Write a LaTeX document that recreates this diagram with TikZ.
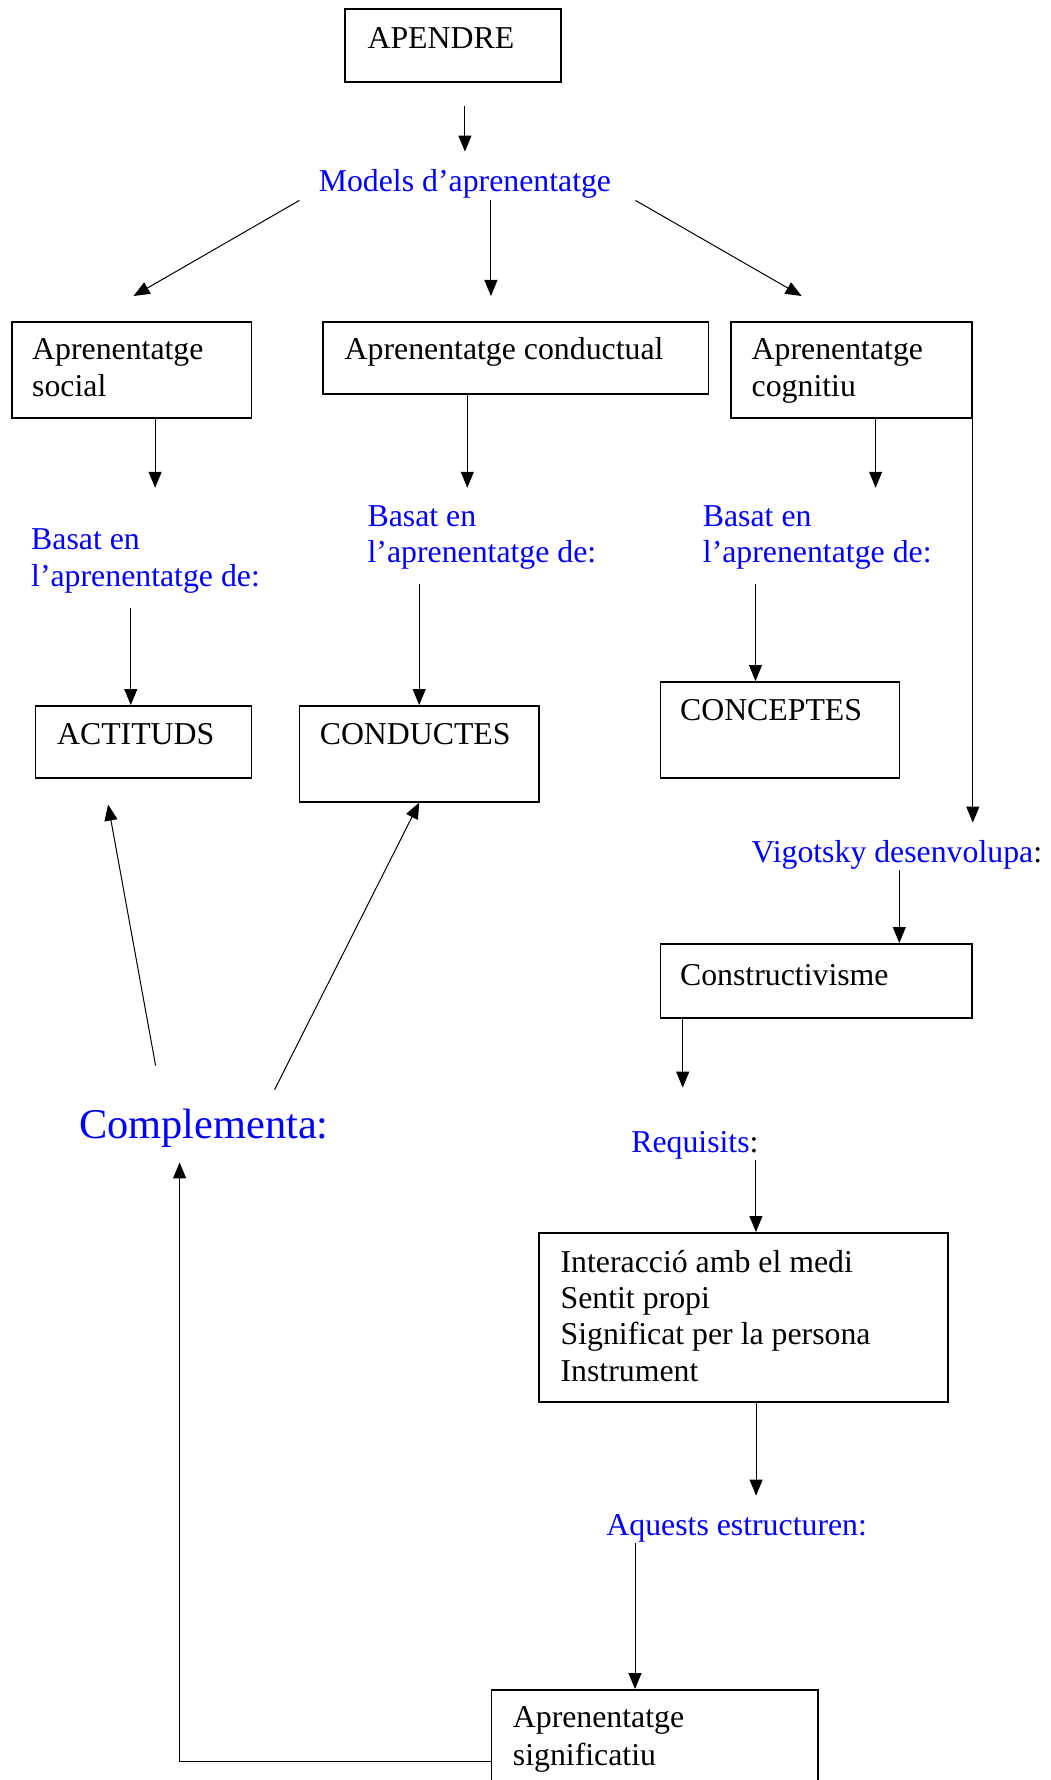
\documentclass[tikz,border=0pt]{standalone}
\usepackage{fontspec}
\setmainfont{Liberation Serif}
\usepackage{tikz}
\usetikzlibrary{arrows.meta}
\definecolor{wordblue}{RGB}{0,0,255}

\begin{document}
\begin{tikzpicture}[x=0.5pt, y=-0.5pt,
    font=\fontsize{15.9pt}{18.4pt}\selectfont,
    box/.style={draw, line width=0.8pt, inner sep=0pt, anchor=north west},
    txt/.style={inner sep=0pt, anchor=base west, text height=11pt, text depth=4pt},
    lbl/.style={txt, text=wordblue},
    twolines/.style={inner sep=0pt, anchor=base west, text width=#1, align=flush left},
    arr/.style={-{Triangle[length=8pt,width=6.5pt]}, line width=0.5pt}]
    \useasboundingbox (0,0) rectangle (1050,1780);
    \clip (0,0) rectangle (1050,1780);
    % boxes
    \node[box, minimum width=108pt, minimum height=36.5pt] (apendre) at (344.3,8) {};
    \node[box, minimum width=119.9pt, minimum height=48pt] (social) at (10.9,321) {};
    \node[box, minimum width=192.6pt, minimum height=36pt] (conductual) at (322.4,321) {};
    \node[box, minimum width=120.4pt, minimum height=48pt] (cognitiu) at (730.4,321) {};
    \node[box, minimum width=108pt, minimum height=36pt] (actituds) at (34.8,705) {};
    \node[box, minimum width=119.9pt, minimum height=48pt] (conductes) at (298.5,705) {};
    \node[box, minimum width=119.4pt, minimum height=48pt] (conceptes) at (659.7,681) {};
    \node[box, minimum width=155.7pt, minimum height=37pt] (constr) at (659.7,943) {};
    \node[box, minimum width=204.5pt, minimum height=84.5pt] (reqbox) at (538.3,1232) {};
    \node[box, minimum width=163.2pt, minimum height=72pt] (signif) at (490.6,1689) {};
    % texts in the boxes
    \node[txt] (t-apendre) at (367.2,49) {APENDRE};
    \node[twolines=110pt] (t-social) at (31.8,360) {Aprenentatge\\social};
    \node[txt] (t-conductual) at (344.3,360) {Aprenentatge conductual};
    \node[twolines=110pt] (t-cognitiu) at (751.3,360) {Aprenentatge\\cognitiu};
    \node[txt] (t-actituds) at (56.7,744) {ACTITUDS};
    \node[txt] (t-conductes) at (319.4,744) {CONDUCTES};
    \node[txt] (t-conceptes) at (679.7,720) {CONCEPTES};
    \node[txt] (t-constr) at (679.7,985) {Constructivisme};
    \node[twolines=190pt, font=\fontsize{15.9pt}{18.2pt}\selectfont] (t-reqbox) at (560.2,1272)
        {Interacció amb el medi\\Sentit propi\\Significat per la persona\\Instrument};
    \node[twolines=150pt, font=\fontsize{15.9pt}{19pt}\selectfont] (t-signif) at (512.5,1727) {Aprenentatge\\significatiu};
    % blue labels
    \node[lbl] (models) at (318.4,192) {Models d’aprenentatge};
    \node[twolines=120pt, text=wordblue] (basat1) at (30.8,550) {Basat en\\l’aprenentatge de:};
    \node[twolines=120pt, text=wordblue] (basat2) at (367.2,526) {Basat en\\l’aprenentatge de:};
    \node[twolines=120pt, text=wordblue] (basat3) at (702.5,526) {Basat en\\l’aprenentatge de:};
    \node[lbl] (vigotsky) at (751.3,862) {Vigotsky desenvolupa\textcolor{black}{:}};
    \node[lbl] (requisits) at (630.9,1152) {Requisits\textcolor{black}{:}};
    \node[lbl] (aquests) at (606,1535) {Aquests estructuren:};
    \node[lbl, font=\fontsize{21.2pt}{24pt}\selectfont, text height=15pt, text depth=5pt] (complementa) at (78.6,1138) {Complementa:};
    % connectors
    \draw[arr, shorten <=11.5pt, shorten >=9pt] (apendre.south -| models.north) -- (models.north);
    \draw[arr] ([shift={(-19,0)}]models.south west) -- ([shift={(2,-25)}]social.north);
    \draw[arr, shorten >=12.5pt] ([shift={(26,0)}]models.south) -- ([shift={(26,0)}]models.south |- conductual.north);
    \draw[arr] ([shift={(24,0)}]models.south east) -- ([shift={(-50,-25)}]cognitiu.north);
    \draw[arr, shorten >=20.5pt] ([shift={(23.5,0)}]social.south) -- ([shift={(23.5,0)}]social.south |- basat1.north);
    \draw[arr, shorten >=8.5pt] ([shift={(-48.5,0)}]conductual.south) -- ([shift={(-48.5,0)}]conductual.south |- basat2.north);
    \draw[arr, shorten >=8.5pt] ([shift={(24,0)}]cognitiu.south) -- ([shift={(24,0)}]cognitiu.south |- basat3.north);
    \draw[arr, shorten >=8.5pt] (cognitiu.south east) -- (cognitiu.south east |- vigotsky.north);
    \draw[arr, shorten <=7pt] ([shift={(100,0)}]basat1.south west) -- ([shift={(100,0)}]basat1.south west |- actituds.north);
    \draw[arr, shorten <=7pt] ([shift={(52,0)}]basat2.south west) -- ([shift={(52,0)}]basat2.south west |- conductes.north);
    \draw[arr, shorten <=7pt] ([shift={(53,0)}]basat3.south west) -- ([shift={(53,0)}]basat3.south west |- conceptes.north);
    \draw[arr] ([shift={(77,-42)}]complementa.north west) -- ([shift={(-35.5,26)}]actituds.south);
    \draw[arr] ([shift={(196,-18)}]complementa.north west) -- (conductes.south);
    \draw[arr] ([shift={(148,0)}]vigotsky.south west) -- ([shift={(148,0)}]vigotsky.south west |- constr.north);
    \draw[arr, shorten >=21pt] ([shift={(23,0)}]constr.south west) -- ([shift={(23,0)}]constr.south west |- requisits.north);
    \draw[arr] ([shift={(-3,0)}]requisits.south east) -- ([shift={(-3,0)}]requisits.south east |- reqbox.north);
    \draw[arr, shorten >=8.5pt] ([shift={(12.5,0)}]reqbox.south) -- ([shift={(12.5,0)}]reqbox.south |- aquests.north);
    \draw[arr] ([shift={(29,0)}]aquests.south west) -- ([shift={(29,0)}]aquests.south west |- signif.north);
    \draw[arr, shorten >=7pt] (signif.west) -| ([shift={(101,0)}]complementa.south west);
\end{tikzpicture}
\end{document}
